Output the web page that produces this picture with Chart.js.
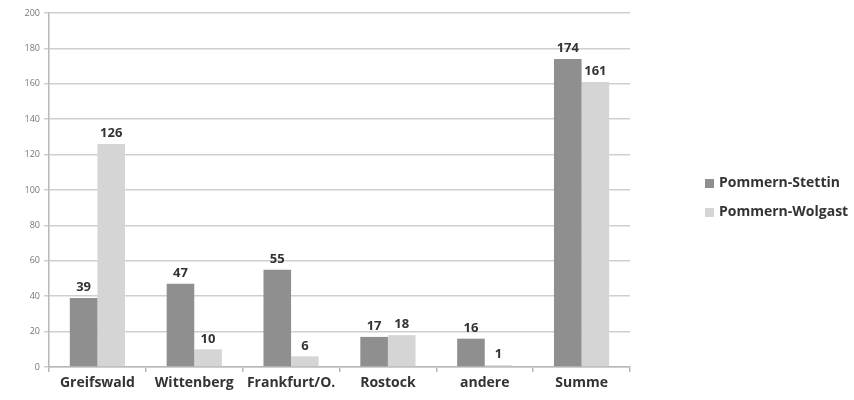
<!DOCTYPE html>
<html lang="de">
<head>
  <meta charset="UTF-8">
  <title>Pommern-Stettin / Pommern-Wolgast</title>
  <script src="https://cdn.jsdelivr.net/npm/chart.js"></script>
  <style>
    body {
      margin: 0;
      background-color: #ffffff;
    }
    #wrap {
      width: 854px;
      height: 400px;
    }
  </style>
</head>
<body>
  <div id="wrap"><canvas id="uniChart"></canvas></div>

  <script>
    const categories = ["Greifswald", "Wittenberg", "Frankfurt/O.", "Rostock", "andere", "Summe"];
    const stettin = [39, 47, 55, 17, 16, 174];
    const wolgast = [126, 10, 6, 18, 1, 161];
    const seriesNames = ["Pommern-Stettin", "Pommern-Wolgast"];
    const seriesColors = ["#8f8f8f", "#d5d5d5"];

    const labelFont = "'Open Sans', 'DejaVu Sans', sans-serif";

    // numbers above each bar + legend on the right
    const extras = {
      id: 'extras',
      afterDatasetsDraw(chart) {
        const ctx = chart.ctx;
        ctx.save();
        ctx.fillStyle = "#333333";
        ctx.font = "bold 13px " + labelFont;
        ctx.textAlign = "center";
        ctx.textBaseline = "bottom";
        chart.data.datasets.forEach((ds, i) => {
          chart.getDatasetMeta(i).data.forEach((bar, j) => {
            ctx.fillText(ds.data[j], bar.x, bar.y - 4);
          });
        });

        ctx.font = "bold 14px " + labelFont;
        ctx.textAlign = "left";
        ctx.textBaseline = "middle";
        seriesNames.forEach((name, i) => {
          const y = 183 + i * 29;
          ctx.fillStyle = seriesColors[i];
          ctx.fillRect(705, y - 4, 9, 9);
          ctx.fillStyle = "#333333";
          ctx.fillText(name, 719, y);
        });
        ctx.restore();
      }
    };

    new Chart(document.getElementById("uniChart").getContext("2d"), {
      type: 'bar',
      data: {
        labels: categories,
        datasets: [
          { label: seriesNames[0], data: stettin, backgroundColor: seriesColors[0] },
          { label: seriesNames[1], data: wolgast, backgroundColor: seriesColors[1] }
        ]
      },
      options: {
        responsive: true,
        maintainAspectRatio: false,
        animation: false,
        datasets: {
          bar: { barPercentage: 1.0, categoryPercentage: 0.57 }
        },
        layout: {
          padding: { left: 0, right: 224, top: 13, bottom: 0 }
        },
        plugins: {
          legend: { display: false },
          tooltip: { enabled: false }
        },
        scales: {
          x: {
            afterFit: scale => { scale.height = 33; },
            grid: {
              offset: true,
              drawOnChartArea: false,
              drawTicks: true,
              tickLength: 5,
              color: "#b8b8b8",
              lineWidth: 1.5
            },
            border: { color: "#b8b8b8", width: 1.5 },
            ticks: {
              color: "#333333",
              font: { family: labelFont, size: 14, weight: 'bold' },
              padding: 3
            }
          },
          y: {
            min: 0,
            max: 200,
            afterFit: scale => { scale.width = 49; },
            grid: {
              color: "#cfcfcf",
              lineWidth: 1.5,
              tickLength: 5
            },
            border: { color: "#b8b8b8", width: 1.5 },
            ticks: {
              stepSize: 20,
              color: "#777777",
              font: { family: labelFont, size: 9 },
              padding: 4
            }
          }
        }
      },
      plugins: [extras]
    });
  </script>
</body>
</html>
